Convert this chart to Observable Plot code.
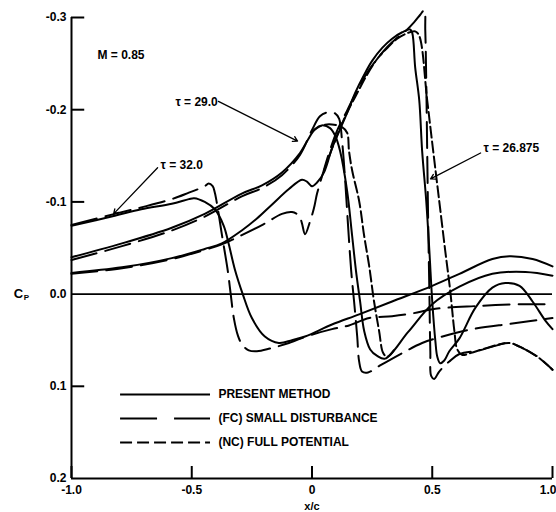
<!DOCTYPE html>
<html><head><meta charset="utf-8">
<script src="https://cdn.jsdelivr.net/npm/d3@7"></script>
<script src="https://cdn.jsdelivr.net/npm/@observablehq/plot@0.6"></script>
<style>
html,body{margin:0;padding:0;background:#fff;}
#chart{width:556px;height:512px;}
</style>
</head><body><div id="chart"></div>
<script>
// ---- axis definitions ----
const xTicks = [-1, -0.5, 0, 0.5, 1];
const xTickLabels = ["-1.0", "-0.5", "0", "0.5", "1.0"];
const yTicks = [-0.3, -0.2, -0.1, 0, 0.1, 0.2];
const yInnerTicks = [-0.3, -0.2, -0.1, 0.1];
const xDomain = [-1, 1];
const yDomain = [-0.3, 0.2];

// ---- tau = 32.0 ----
const tau32Present = [[-1.0,-0.074],[-0.82,-0.085],[-0.71,-0.092],[-0.583,-0.098],[-0.512,-0.103],[-0.49,-0.104],[-0.446,-0.1],[-0.404,-0.092],[-0.367,-0.074],[-0.346,-0.054],[-0.321,-0.027],[-0.288,0.0],[-0.25,0.026],[-0.196,0.046],[-0.138,0.053],[-0.083,0.050],[-0.029,0.046],[0.083,0.033],[0.196,0.022],[0.333,0.008],[0.5,-0.009],[0.613,-0.022],[0.75,-0.038],[0.821,-0.041],[0.917,-0.038],[1.0,-0.030]];
const tau32FC = [[-1.0,-0.075],[-0.82,-0.087],[-0.71,-0.094],[-0.583,-0.103],[-0.512,-0.110],[-0.446,-0.117],[-0.43,-0.120],[-0.413,-0.117],[-0.404,-0.110],[-0.39,-0.090],[-0.375,-0.065],[-0.35,-0.025],[-0.338,0.0],[-0.325,0.026],[-0.308,0.045],[-0.29,0.055],[-0.263,0.061],[-0.229,0.062],[-0.175,0.059],[-0.096,0.053],[-0.013,0.045],[0.083,0.038],[0.154,0.034],[0.238,0.026],[0.333,0.024],[0.417,0.021],[0.513,0.016],[0.679,0.013],[0.875,0.011],[1.0,0.011]];

// ---- tau = 29.0 ----
const tau29Present = [[-1.0,-0.040],[-0.79,-0.055],[-0.583,-0.072],[-0.446,-0.087],[-0.292,-0.109],[-0.208,-0.118],[-0.125,-0.132],[-0.05,-0.153],[-0.02,-0.166],[0.013,-0.179],[0.042,-0.183],[0.075,-0.180],[0.096,-0.172],[0.117,-0.155],[0.146,-0.112],[0.167,-0.063],[0.183,-0.025],[0.2,0.008],[0.217,0.040],[0.242,0.060],[0.271,0.067],[0.304,0.070],[0.4,0.041],[0.5,0.011],[0.613,-0.008],[0.75,-0.022],[0.888,-0.024],[1.0,-0.020]];
const tau29FC = [[-1.0,-0.037],[-0.79,-0.052],[-0.583,-0.069],[-0.446,-0.084],[-0.292,-0.106],[-0.208,-0.115],[-0.125,-0.129],[-0.05,-0.151],[0.0,-0.178],[0.033,-0.193],[0.063,-0.197],[0.096,-0.196],[0.113,-0.190],[0.125,-0.166],[0.138,-0.123],[0.15,-0.074],[0.163,-0.025],[0.175,0.008],[0.188,0.046],[0.196,0.073],[0.208,0.084],[0.233,0.085],[0.279,0.078],[0.375,0.064],[0.458,0.053],[0.529,0.047],[0.667,0.038],[0.833,0.032],[1.0,0.026]];
const tau29NC = [[0.0,-0.176],[0.042,-0.183],[0.083,-0.184],[0.125,-0.181],[0.146,-0.175],[0.154,-0.155],[0.167,-0.134],[0.196,-0.101],[0.217,-0.063],[0.238,-0.030],[0.258,0.008],[0.279,0.040],[0.296,0.064],[0.313,0.068],[0.34,0.061]];

// ---- tau = 26.875 ----
const tau26Present = [[-1.0,-0.023],[-0.79,-0.029],[-0.583,-0.039],[-0.446,-0.049],[-0.375,-0.055],[-0.292,-0.069],[-0.229,-0.082],[-0.167,-0.097],[-0.096,-0.114],[-0.042,-0.124],[-0.021,-0.122],[0.0,-0.117],[0.021,-0.121],[0.05,-0.132],[0.083,-0.158],[0.117,-0.179],[0.15,-0.199],[0.179,-0.218],[0.217,-0.238],[0.25,-0.253],[0.292,-0.267],[0.333,-0.277],[0.375,-0.284],[0.408,-0.287],[0.417,-0.283],[0.429,-0.246],[0.446,-0.210],[0.458,-0.155],[0.475,-0.101],[0.488,-0.047],[0.5,0.008],[0.513,0.051],[0.521,0.068],[0.533,0.075],[0.55,0.072],[0.571,0.062],[0.613,0.048],[0.679,0.015],[0.75,-0.007],[0.804,-0.012],[0.863,-0.009],[0.917,0.008],[0.971,0.029],[1.0,0.038]];
const tau26FC = [[-1.0,-0.022],[-0.79,-0.028],[-0.583,-0.038],[-0.446,-0.048],[-0.375,-0.054],[-0.292,-0.064],[-0.2,-0.076],[-0.125,-0.087],[-0.083,-0.089],[-0.054,-0.085],[-0.042,-0.077],[-0.029,-0.065],[-0.008,-0.079],[0.008,-0.093],[0.021,-0.109],[0.042,-0.128],[0.071,-0.153],[0.104,-0.177],[0.146,-0.199],[0.188,-0.221],[0.229,-0.240],[0.271,-0.255],[0.313,-0.268],[0.354,-0.278],[0.388,-0.285],[0.425,-0.295],[0.45,-0.303],[0.467,-0.308],[0.471,-0.286],[0.475,-0.232],[0.479,-0.155],[0.483,-0.079],[0.488,-0.003],[0.492,0.062],[0.496,0.089],[0.508,0.092],[0.529,0.084],[0.571,0.073],[0.613,0.065],[0.696,0.061],[0.75,0.057],[0.821,0.053],[0.863,0.057],[0.938,0.068],[1.0,0.082]];
const tau26NC = [[0.05,-0.134],[0.104,-0.172],[0.146,-0.197],[0.188,-0.218],[0.229,-0.238],[0.271,-0.255],[0.313,-0.267],[0.354,-0.277],[0.396,-0.283],[0.429,-0.285],[0.446,-0.280],[0.479,-0.210],[0.504,-0.155],[0.529,-0.101],[0.554,-0.047],[0.575,-0.003],[0.592,0.040],[0.604,0.060],[0.625,0.066],[0.658,0.064],[0.708,0.060],[0.771,0.055],[0.821,0.053],[0.863,0.057],[0.938,0.068],[1.0,0.082]];

// ---- text ----
const machLabel = "M = 0.85";
const tauLabels = ["τ = 32.0", "τ = 29.0", "τ = 26.875"];
const legendLabels = ["PRESENT METHOD", "(FC) SMALL DISTURBANCE", "(NC) FULL POTENTIAL"];
const xLabel = "x/c";

// ---- build tables ----
const series = [
  {key: "32-P", method: "P", pts: tau32Present},
  {key: "32-FC", method: "FC", pts: tau32FC},
  {key: "29-P", method: "P", pts: tau29Present},
  {key: "29-FC", method: "FC", pts: tau29FC},
  {key: "29-NC", method: "NC", pts: tau29NC},
  {key: "26-P", method: "P", pts: tau26Present},
  {key: "26-FC", method: "FC", pts: tau26FC},
  {key: "26-NC", method: "NC", pts: tau26NC}
];
const rows = series.flatMap(s => s.pts.map(([x, y]) => ({key: s.key, method: s.method, x, y})));
const dash = {P: null, FC: "26,9", NC: "11,4"};
const legendDash = [null, "37,17", "12,5"];

// annotation layout (label text position -> arrow)
const tauNotes = [
  {label: tauLabels[0], tx: -0.630, ty: -0.140, x1: -0.642, y1: -0.137, x2: -0.825, y2: -0.087},
  {label: tauLabels[1], tx: -0.568, ty: -0.208, x1: -0.389, y1: -0.209, x2: -0.060, y2: -0.166},
  {label: tauLabels[2], tx: 0.713, ty: -0.158, x1: 0.701, y1: -0.153, x2: 0.493, y2: -0.125}
];
const legendRows = legendLabels.map((label, i) => ({label, i, dash: legendDash[i], y: 0.109 + i * 0.026, xa: -0.796, xb: -0.422, xt: -0.389}));
const xLabelRows = xTicks.map((v, i) => ({v, label: xTickLabels[i], last: i === xTicks.length - 1}));

const font = "'Liberation Sans', Arial, Helvetica, sans-serif";
const fs = 12;

const marks = [
  // axes frame
  Plot.ruleX([xDomain[0]], {y1: yDomain[0], y2: yDomain[1], strokeWidth: 2}),
  Plot.ruleY([yDomain[1]], {x1: xDomain[0], x2: xDomain[1], strokeWidth: 2}),
  Plot.ruleY([0], {x1: xDomain[0], x2: xDomain[1], strokeWidth: 1.6}),
  Plot.ruleY(yInnerTicks, {x1: xDomain[0], x2: xDomain[0] + 0.055, strokeWidth: 2}),
  Plot.ruleX(xTicks, {y1: yDomain[1], y2: yDomain[1] - 0.013, strokeWidth: 2}),
  Plot.axisY({ticks: yTicks, tickSize: 0, tickPadding: 5, tickFormat: d => d.toFixed(1), label: null, fontWeight: "bold", fontSize: fs}),
  Plot.text(xLabelRows.filter(d => !d.last), {x: "v", y: yDomain[1], text: "label", dy: 12, fontWeight: "bold", fontSize: fs}),
  Plot.text(xLabelRows.filter(d => d.last), {x: "v", y: yDomain[1], text: "label", dy: 12, dx: 4, textAnchor: "end", fontWeight: "bold", fontSize: fs}),
  Plot.text([xLabel], {x: 0, y: yDomain[1], dy: 28, fontWeight: "bold", fontSize: fs - 1}),
  Plot.text(["C"], {x: xDomain[0], y: 0, dx: -53, fontSize: 13, fontWeight: "bold"}),
  Plot.text(["P"], {x: xDomain[0], y: 0, dx: -45, dy: 3, fontSize: 8, fontWeight: "bold"}),
  // curves
  ...["P", "FC", "NC"].map(m => Plot.line(rows.filter(r => r.method === m), {
    x: "x", y: "y", z: "key", stroke: "black", strokeWidth: 2,
    strokeDasharray: dash[m], curve: "catmull-rom", strokeLinejoin: "round"
  })),
  // annotations
  Plot.text([machLabel], {x: -0.892, y: -0.259, textAnchor: "start", fontWeight: "bold", fontSize: fs}),
  Plot.text(tauNotes, {x: "tx", y: "ty", text: "label", textAnchor: "start", fontWeight: "bold", fontSize: fs}),
  Plot.arrow(tauNotes, {x1: "x1", y1: "y1", x2: "x2", y2: "y2", strokeWidth: 1.3, headLength: 6, bend: 0}),
  // legend
  ...legendRows.map(r => Plot.ruleY([r.y], {x1: r.xa, x2: r.xb, strokeWidth: 2, strokeDasharray: r.dash})),
  Plot.text(legendRows, {x: "xt", y: "y", text: "label", textAnchor: "start", fontWeight: "bold", fontSize: fs})
];

const chart = Plot.plot({
  width: 556,
  height: 512,
  marginLeft: 71,
  marginRight: 4,
  marginTop: 17,
  marginBottom: 34,
  x: {domain: xDomain, axis: null},
  y: {domain: yDomain, reverse: true},
  style: {fontFamily: font, fontSize: "12px", background: "white", color: "black"},
  marks
});
document.getElementById("chart").appendChild(chart);
</script>
</body></html>
